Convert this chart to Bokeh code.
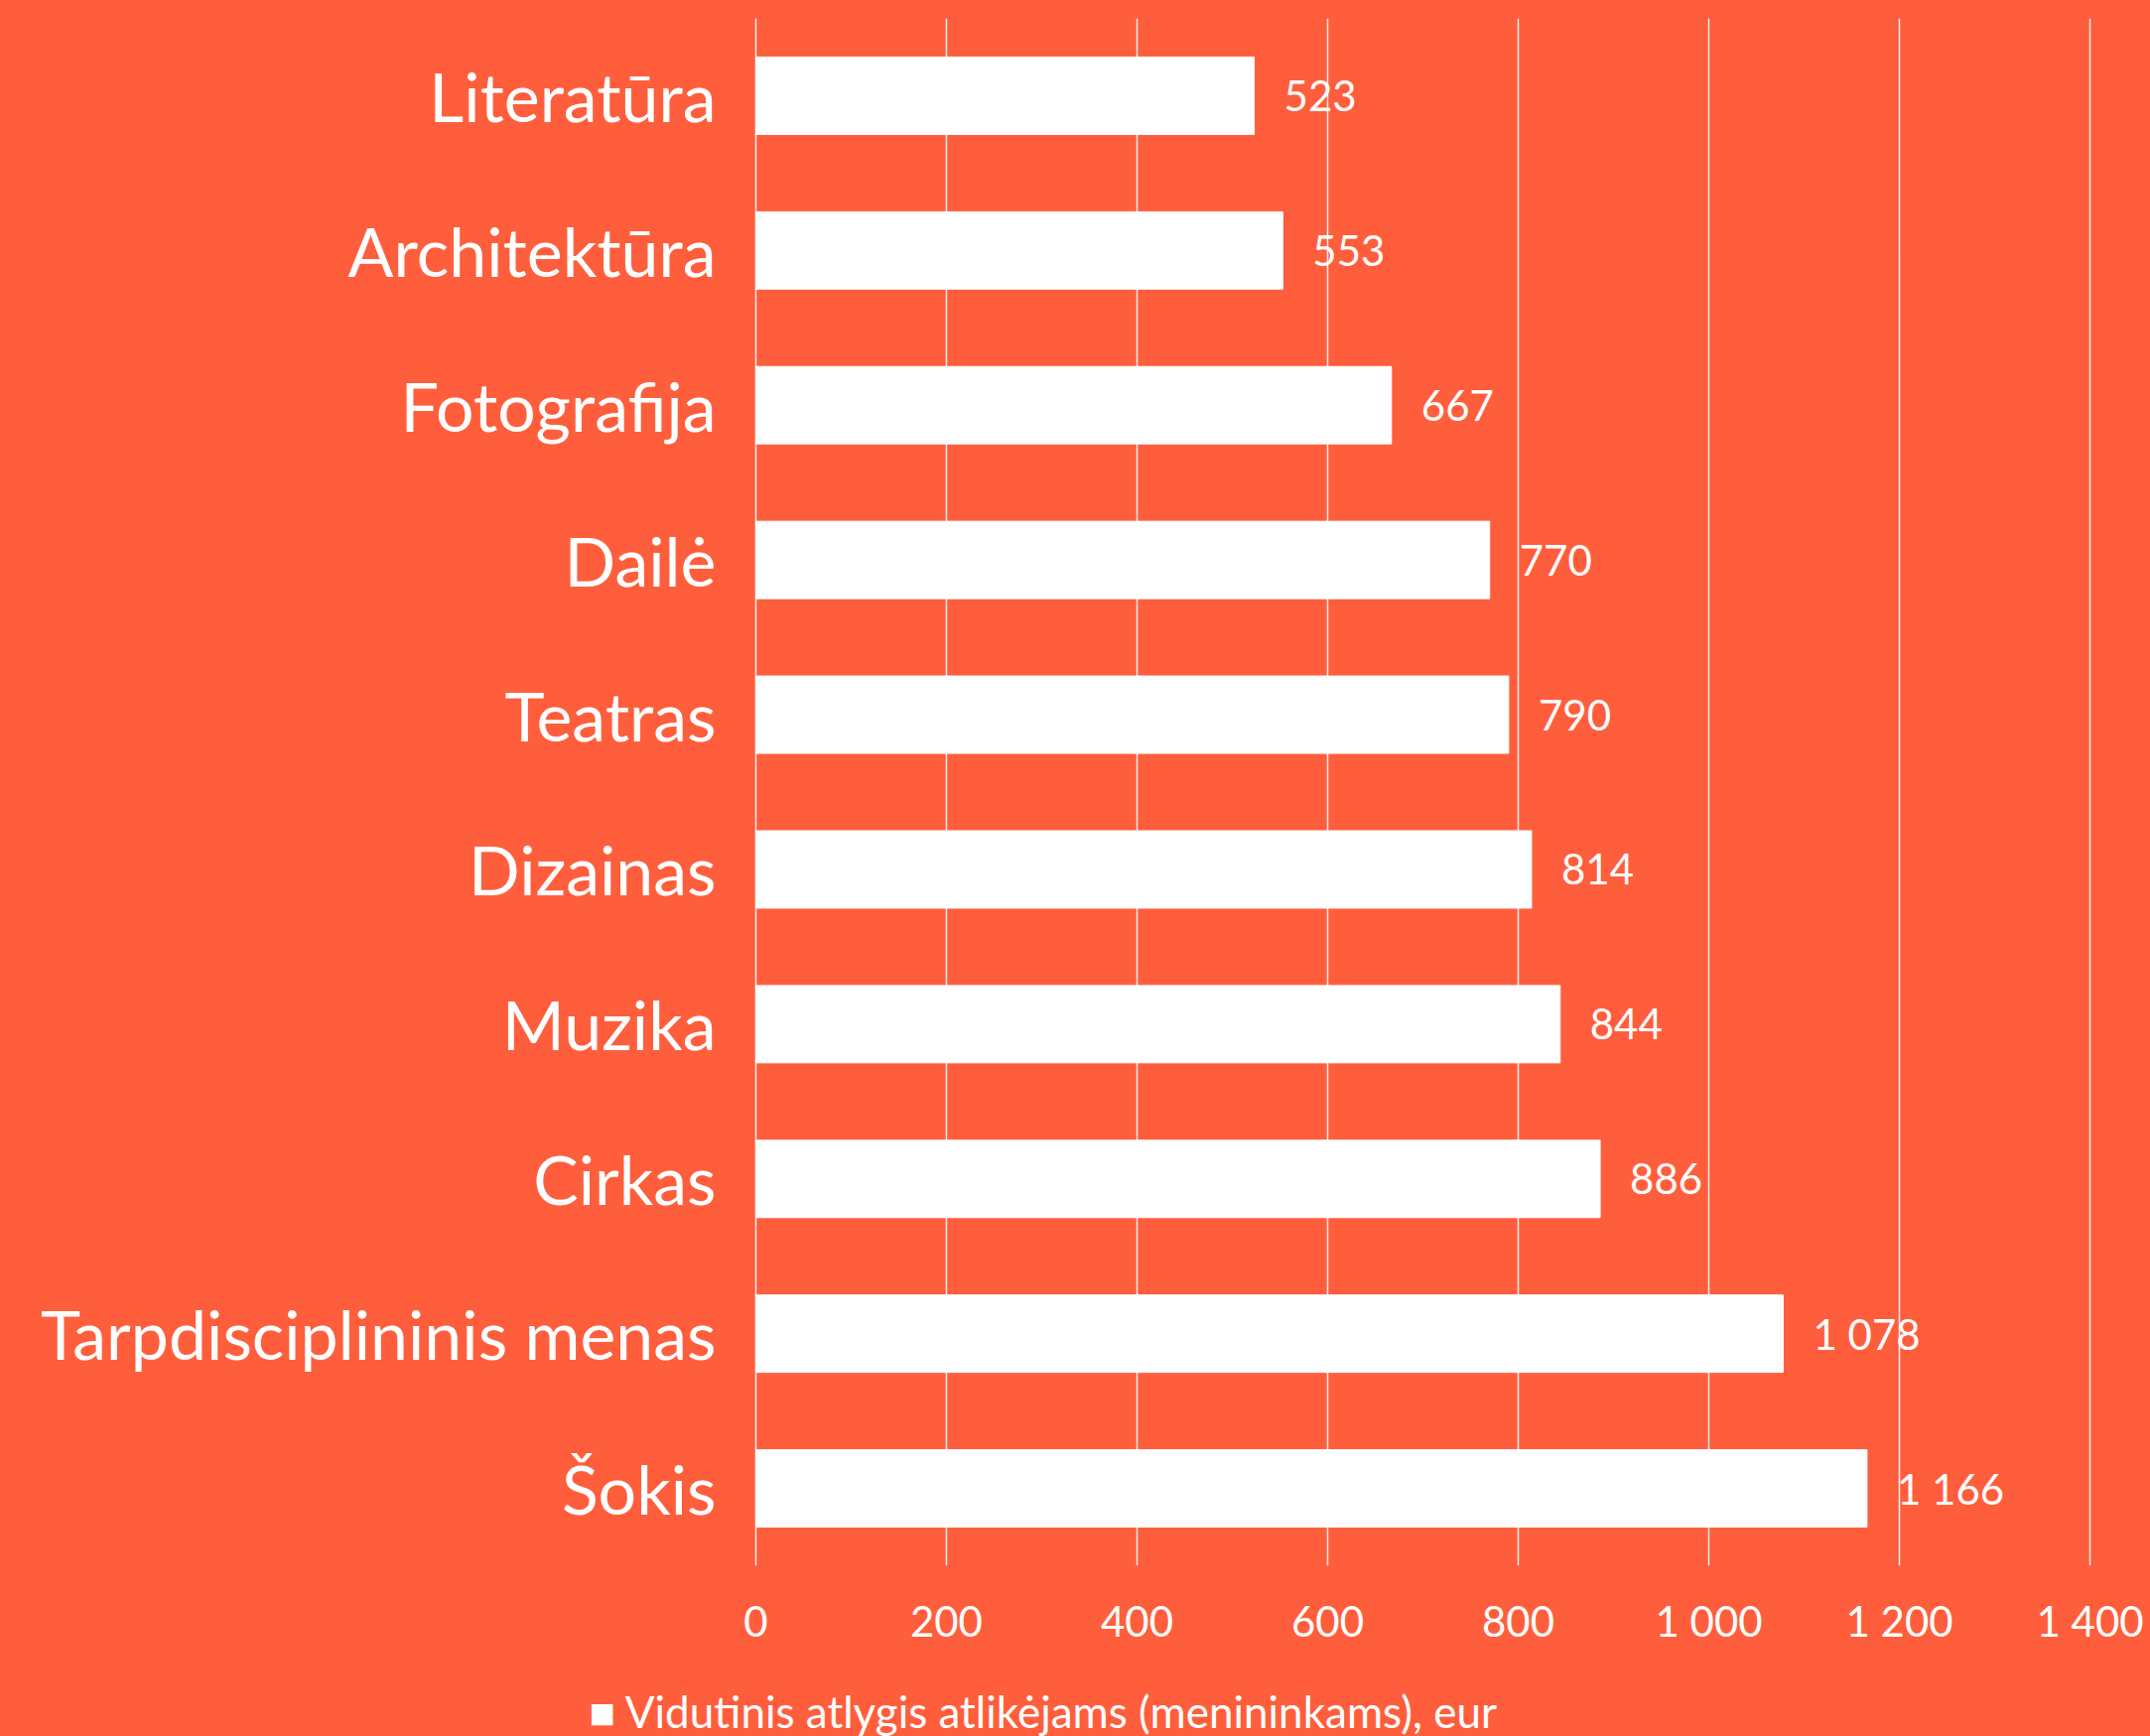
from bokeh.plotting import figure
from bokeh.models import ColumnDataSource, FactorRange, Range1d, FixedTicker, Title, LinearAxis
from bokeh.core.properties import value
from bokeh.embed import file_html
from bokeh.resources import INLINE

categories = ["Literatūra", "Architektūra", "Fotografija", "Dailė", "Teatras",
              "Dizainas", "Muzika", "Cirkas", "Tarpdisciplininis menas", "Šokis"]
values = [523, 553, 667, 770, 790, 814, 844, 886, 1078, 1166]
value_labels = ["523", "553", "667", "770", "790", "814", "844", "886", "1 078", "1 166"]
x_ticks = [0, 200, 400, 600, 800, 1000, 1200, 1400]
x_tick_labels = ["0", "200", "400", "600", "800", "1 000", "1 200", "1 400"]
series_name = "Vidutinis atlygis atlikėjams (menininkams), eur"

BG = "#FF5E3C"
FONT = "Lato"

src = ColumnDataSource(dict(cat=categories, val=values, lab=value_labels))

p = figure(width=2166, height=1749,
           y_range=FactorRange(factors=categories[::-1], range_padding=0),
           x_range=Range1d(-2, 1402),
           output_backend="svg", toolbar_location=None,
           min_border_left=759, min_border_right=59,
           min_border_top=18, min_border_bottom=171)
p.background_fill_color = BG
p.border_fill_color = BG
p.outline_line_color = None
p.styles = {"background-color": BG}

bars = p.hbar(y="cat", right="val", left=0, height=0.5, source=src,
              fill_color="white", line_color="white", legend_label=series_name)
p.text(x="val", y="cat", text="lab", source=src, x_offset=30,
       text_align="left", text_baseline="middle", text_color="white",
       text_font=value(FONT), text_font_size="42px")
p.legend.visible = False

ticker = FixedTicker(ticks=x_ticks)
p.xaxis.ticker = ticker
p.xaxis.major_label_overrides = {t: l for t, l in zip(x_ticks, x_tick_labels)}
p.xgrid.ticker = ticker
p.xgrid.grid_line_color = "#EDEDED"
p.xgrid.grid_line_width = 1.5
p.ygrid.grid_line_color = None

p.xaxis.axis_line_color = None
p.xaxis.major_tick_line_color = None
p.xaxis.minor_tick_line_color = None
p.xaxis.major_label_text_color = "white"
p.xaxis.major_label_text_font = FONT
p.xaxis.major_label_text_font_size = "42px"
p.xaxis.major_label_standoff = 24

# blank axis (ticks in background colour, no labels) used only as vertical
# spacing between the tick labels and the legend line
spacer = LinearAxis(ticker=FixedTicker(ticks=x_ticks), axis_line_color=None,
                    major_tick_line_color=BG, minor_tick_line_color=None,
                    major_tick_in=0, major_tick_out=35, minor_tick_out=0,
                    major_label_text_color=None, major_label_standoff=0)
p.add_layout(spacer, "below")

p.yaxis.axis_line_color = None
p.yaxis.major_tick_line_color = None
p.yaxis.major_label_text_color = "white"
p.yaxis.major_label_text_font = FONT
p.yaxis.major_label_text_font_size = "68px"
p.yaxis.major_label_standoff = 32

legend_title = Title(text="\u25A0 " + series_name, align="left", offset=-166,
                     text_color="white", text_font=FONT, text_font_size="44px",
                     text_font_style="normal", standoff=0)
p.add_layout(legend_title, "below")

open("out.html", "w").write(file_html(p, INLINE))
